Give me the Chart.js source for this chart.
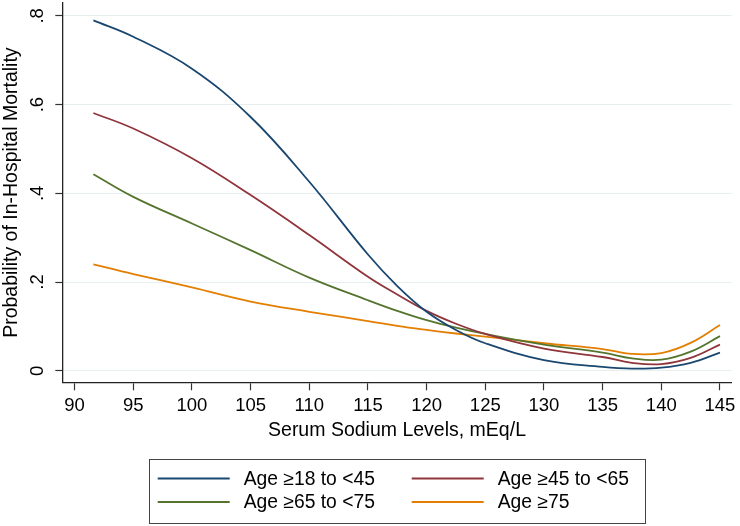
<!DOCTYPE html>
<html>
<head>
<meta charset="utf-8">
<script src="https://cdn.jsdelivr.net/npm/chart.js@4/dist/chart.umd.min.js"></script>
<style>
  body { margin: 0; background: #fff; }
  canvas { display: block; }
</style>
</head>
<body>
<canvas id="grafico" width="740" height="526"></canvas>
<script>
// Datos
const sodiumLevels = [91.6, 95, 100, 105, 110, 115, 117.5, 120, 122.5, 125, 130, 135, 137.5, 140, 142.5, 145];
const age18to45 = [0.790, 0.753, 0.681, 0.572, 0.426, 0.262, 0.191, 0.133, 0.092, 0.062, 0.024, 0.009, 0.005, 0.007, 0.018, 0.041];
const age45to65 = [0.581, 0.546, 0.479, 0.396, 0.306, 0.212, 0.172, 0.135, 0.106, 0.083, 0.050, 0.031, 0.018, 0.015, 0.029, 0.059];
const age65to75 = [0.443, 0.392, 0.332, 0.272, 0.210, 0.159, 0.135, 0.114, 0.097, 0.083, 0.059, 0.041, 0.028, 0.025, 0.043, 0.078];
const age75plus = [0.240, 0.218, 0.188, 0.156, 0.133, 0.112, 0.101, 0.092, 0.084, 0.077, 0.062, 0.049, 0.038, 0.040, 0.063, 0.103];

const seriesLabels = ['Age \u226518 to <45', 'Age \u226545 to <65', 'Age \u226565 to <75', 'Age \u226575'];
const seriesColors = ['#1a476f', '#90353b', '#55752f', '#e37e00'];

const xTicks = [90, 95, 100, 105, 110, 115, 120, 125, 130, 135, 140, 145];
const yTicks = [0, 0.2, 0.4, 0.6, 0.8];
const yTickLabels = ['0', '.2', '.4', '.6', '.8'];

const fontFamily = "'Liberation Sans', Arial, sans-serif";

function toPoints(values) {
    return sodiumLevels.map((x, i) => ({ x: x, y: values[i] }));
}

const datasets = [age18to45, age45to65, age65to75, age75plus].map((values, i) => ({
    label: seriesLabels[i],
    data: toPoints(values),
    borderColor: seriesColors[i],
    backgroundColor: seriesColors[i],
    borderWidth: 1.8,
    pointRadius: 0,
    showLine: true,
    tension: 0.4
}));

// Leyenda con marco, dos columnas (estilo Stata)
const legendBox = {
    id: 'legendBox',
    afterDraw(chart) {
        const ctx = chart.ctx;
        ctx.save();
        ctx.strokeStyle = '#444';
        ctx.lineWidth = 1;
        ctx.strokeRect(149.5, 459.5, 496, 64);
        ctx.font = '19.3px ' + fontFamily;
        ctx.textBaseline = 'middle';
        ctx.textAlign = 'left';
        chart.data.datasets.forEach((ds, i) => {
            const col = i % 2;
            const row = Math.floor(i / 2);
            const lx = col ? 411.7 : 157.7;
            const ly = row ? 502 : 478.5;
            ctx.strokeStyle = ds.borderColor;
            ctx.lineWidth = 2;
            ctx.beginPath();
            ctx.moveTo(lx, ly);
            ctx.lineTo(lx + 72, ly);
            ctx.stroke();
            ctx.fillStyle = '#000';
            ctx.fillText(ds.label, lx + 86, ly + 1);
        });
        ctx.restore();
    }
};

new Chart(document.getElementById('grafico').getContext('2d'), {
    type: 'scatter',
    data: { datasets: datasets },
    options: {
        responsive: false,
        animation: false,
        layout: { padding: { left: 0, top: 3, right: 8.3, bottom: 83.3 } },
        plugins: {
            legend: { display: false },
            tooltip: { enabled: false }
        },
        scales: {
            x: {
                type: 'linear',
                min: 88.95,
                max: 146,
                afterBuildTicks: scale => { scale.ticks = xTicks.map(v => ({ value: v })); },
                afterFit: scale => { scale.height = 60.4; scale.paddingLeft = 0; scale.paddingRight = 0; },
                ticks: {
                    color: '#000',
                    padding: 4.6,
                    maxRotation: 0,
                    autoSkip: false,
                    font: { family: fontFamily, size: 18.5 }
                },
                grid: { drawOnChartArea: false, drawTicks: true, tickLength: 8, tickColor: '#333', tickWidth: 1.2 },
                border: { display: true, color: '#222', width: 1.3 },
                title: {
                    display: true,
                    text: 'Serum Sodium Levels, mEq/L',
                    color: '#000',
                    padding: { top: 0, bottom: 0 },
                    font: { family: fontFamily, size: 19.5 }
                }
            },
            y: {
                min: -0.026,
                max: 0.829,
                afterBuildTicks: scale => { scale.ticks = yTicks.map(v => ({ value: v })); },
                afterFit: scale => { scale.width = 62.3; scale.paddingTop = 0; scale.paddingBottom = 0; },
                ticks: {
                    color: '#000',
                    padding: 9.3,
                    minRotation: 90,
                    maxRotation: 90,
                    crossAlign: 'center',
                    autoSkip: false,
                    font: { family: fontFamily, size: 18.5 },
                    callback: value => {
                        const idx = yTicks.findIndex(t => Math.abs(t - value) < 1e-9);
                        return idx >= 0 ? yTickLabels[idx] : '';
                    }
                },
                grid: { color: '#e6eef0', lineWidth: 1, drawTicks: true, tickLength: 7, tickColor: '#333', tickWidth: 1.2 },
                border: { display: true, color: '#222', width: 1.3 },
                title: {
                    display: true,
                    text: 'Probability of In-Hospital Mortality',
                    color: '#000',
                    padding: { top: 0.3, bottom: 0 },
                    font: { family: fontFamily, size: 19.5 }
                }
            }
        }
    },
    plugins: [legendBox]
});
</script>
</body>
</html>
